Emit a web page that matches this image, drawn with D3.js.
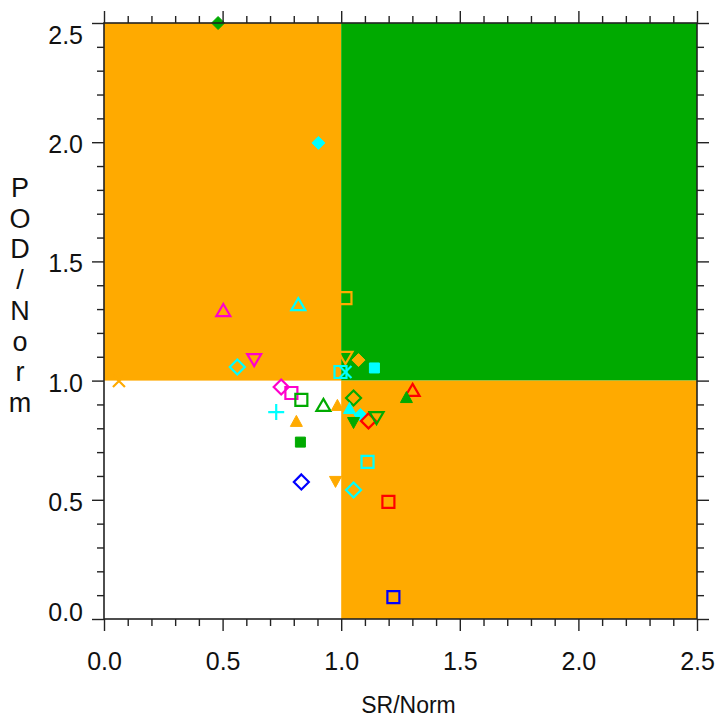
<!DOCTYPE html>
<html>
<head>
<meta charset="utf-8">
<script src="https://cdn.jsdelivr.net/npm/d3@7"></script>
<style>
  html, body { margin: 0; padding: 0; background: #fff; }
  svg { display: block; font-family: "Liberation Sans", Arial, sans-serif; }
</style>
</head>
<body>
<svg id="chart" width="716" height="717"></svg>
<script>
// Normalised success ratio (x) and probability of detection (y) for each case
const srNorm  = [0.481, 0.904, 0.503, 0.819, 1.018, 0.633, 0.562, 0.063, 1.018, 1.073,
                 1.140, 0.997, 1.018, 0.747, 0.790, 0.832, 0.925, 0.984, 0.726, 0.811,
                 0.828, 1.052, 1.035, 1.081, 1.052, 1.115, 1.149, 1.301, 1.275, 1.111,
                 0.832, 0.976, 1.052, 1.199, 1.220];
const podNorm = [2.500, 1.997, 1.296, 1.321, 1.346, 1.086, 1.057, 0.998, 1.095, 1.086,
                 1.053, 1.036, 1.036, 0.973, 0.948, 0.919, 0.898, 0.898, 0.868, 0.831,
                 0.742, 0.927, 0.885, 0.856, 0.822, 0.831, 0.843, 0.961, 0.931, 0.659,
                 0.575, 0.575, 0.541, 0.491, 0.092];
const markerShape = ["diamond", "diamond", "triangle", "triangle", "square", "triangleDown", "diamond", "cross", "triangleDown", "diamond",
                     "square", "square", "cross", "diamond", "square", "square", "triangle", "triangle", "plus", "triangle",
                     "square", "diamond", "triangle", "diamond", "triangleDown", "diamond", "triangleDown", "triangle", "triangle", "square",
                     "diamond", "triangleDown", "diamond", "square", "square"];
const markerColor = ["green", "cyan", "magenta", "cyan", "orange", "magenta", "cyan", "orange", "orange", "orange",
                     "cyan", "cyan", "cyan", "magenta", "magenta", "green", "green", "orange", "cyan", "orange",
                     "green", "green", "cyan", "cyan", "green", "red", "green", "red", "green", "cyan",
                     "blue", "orange", "cyan", "red", "blue"];
const markerFilled = [true, true, false, false, false, false, false, false, false, true,
                      true, false, false, false, false, false, false, true, false, true,
                      true, false, true, true, true, false, false, false, true, false,
                      false, true, false, false, false];

const majorTicks = [0.0, 0.5, 1.0, 1.5, 2.0, 2.5];
const tickLabels = ["0.0", "0.5", "1.0", "1.5", "2.0", "2.5"];
const xTitle = "SR/Norm";
const yTitle = "POD/Norm";

const palette = {
  orange: "#FFAA00", green: "#00AA00", cyan: "#00FFFF",
  magenta: "#FF00CC", red: "#FF0000", blue: "#0000FF"
};

const svg = d3.select("#chart");
const plotLeft = 104, plotRight = 697, plotTop = 23, plotBottom = 619;

const x = d3.scaleLinear().domain([0, 2.5]).range([plotLeft, plotRight]);
const y = d3.scaleLinear().domain([0, 2.5]).range([plotBottom, plotTop]);

// Quadrant shading split at 1.0 on both axes
const quads = [
  {x0: 0, x1: 1, y0: 1, y1: 2.5, c: palette.orange},
  {x0: 1, x1: 2.5, y0: 1, y1: 2.5, c: palette.green},
  {x0: 1, x1: 2.5, y0: 0, y1: 1, c: palette.orange}
];
svg.append("g").selectAll("rect").data(quads).join("rect")
  .attr("x", d => x(d.x0)).attr("y", d => y(d.y1))
  .attr("width", d => x(d.x1) - x(d.x0))
  .attr("height", d => y(d.y0) - y(d.y1))
  .attr("fill", d => d.c);

// Marker outlines
function markerPath(shape, filled) {
  const p = d3.path();
  if (shape === "square") {
    const s = filled ? 5 : 6;
    p.rect(-s, -s, 2 * s, 2 * s);
  } else if (shape === "diamond") {
    const s = filled ? 6.5 : 7.5;
    p.moveTo(0, -s); p.lineTo(s, 0); p.lineTo(0, s); p.lineTo(-s, 0); p.closePath();
  } else if (shape === "triangle") {
    const w = filled ? 6 : 7, h = filled ? 11 : 12;
    p.moveTo(0, -h / 2); p.lineTo(w, h / 2); p.lineTo(-w, h / 2); p.closePath();
  } else if (shape === "triangleDown") {
    const w = filled ? 6 : 7, h = filled ? 11 : 12;
    p.moveTo(0, h / 2); p.lineTo(w, -h / 2); p.lineTo(-w, -h / 2); p.closePath();
  } else if (shape === "cross") {
    const s = 6;
    p.moveTo(-s, -s); p.lineTo(s, s); p.moveTo(s, -s); p.lineTo(-s, s);
  } else if (shape === "plus") {
    const s = 8;
    p.moveTo(-s, 0); p.lineTo(s, 0); p.moveTo(0, -s); p.lineTo(0, s);
  }
  return p.toString();
}

const points = srNorm.map((v, i) => ({
  sr: v, pod: podNorm[i], shape: markerShape[i],
  color: palette[markerColor[i]], filled: markerFilled[i]
}));

svg.append("g").selectAll("path").data(points).join("path")
  .attr("transform", d => `translate(${x(d.sr)},${y(d.pod)})`)
  .attr("d", d => markerPath(d.shape, d.filled))
  .attr("fill", d => d.filled ? d.color : "none")
  .attr("stroke", d => d.color)
  .attr("stroke-width", d => d.filled ? 1 : 2.2)
  .attr("stroke-linejoin", "miter");

// Axes: major ticks every 0.5, minor every 0.1, all pointing outward
const minorTicks = d3.range(0, 26).map(i => i / 10).filter(v => Math.abs(v * 2 - Math.round(v * 2)) > 1e-6);

function drawAxis(axisGen, transform, isLabelled, labelAxis) {
  const gMinor = svg.append("g").attr("transform", transform)
    .call(axisGen(minorTicks).tickSize(7).tickFormat(""));
  gMinor.select(".domain").remove();
  const gMajor = svg.append("g").attr("transform", transform)
    .call(axisGen(majorTicks).tickSize(12).tickPadding(labelAxis === "x" ? 30 : 9)
      .tickFormat((d, i) => isLabelled ? tickLabels[i] : ""));
  gMajor.select(".domain").remove();
  [gMinor, gMajor].forEach(g => g.selectAll(".tick line").attr("stroke", "#222").attr("stroke-width", 1.4));
  gMajor.selectAll("text").attr("font-size", 25).attr("fill", "#111")
    .attr("font-family", "Liberation Sans, Arial, sans-serif");
  return gMajor;
}

const xb = drawAxis(v => d3.axisBottom(x).tickValues(v), `translate(0,${plotBottom})`, true, "x");
drawAxis(v => d3.axisTop(x).tickValues(v), `translate(0,${plotTop})`, false, "x");
const yl = drawAxis(v => d3.axisLeft(y).tickValues(v), `translate(${plotLeft},0)`, true, "y");
drawAxis(v => d3.axisRight(y).tickValues(v), `translate(${plotRight},0)`, false, "y");

// Keep the end labels of the y axis inside the frame
yl.selectAll("text").attr("dy", d => d === 2.5 ? "0.82em" : d === 0 ? "0.05em" : "0.42em");
xb.selectAll("text").attr("dy", "0.35em");

// Frame
svg.append("rect")
  .attr("x", plotLeft).attr("y", plotTop)
  .attr("width", plotRight - plotLeft).attr("height", plotBottom - plotTop)
  .attr("fill", "none").attr("stroke", "#222").attr("stroke-width", 1.6);

// Axis titles
svg.append("text").attr("x", (plotLeft + plotRight) / 2 + 8).attr("y", 713)
  .attr("text-anchor", "middle").attr("font-size", 23).attr("fill", "#111")
  .text(xTitle);

const yLetters = yTitle.split("");
const yTitleY = d3.scaleLinear().domain([0, yLetters.length - 1]).range([197, 412]);
svg.append("g").selectAll("text").data(yLetters).join("text")
  .attr("x", 20).attr("y", (d, i) => yTitleY(i))
  .attr("text-anchor", "middle").attr("font-size", 27).attr("fill", "#111")
  .text(d => d);
</script>
</body>
</html>
